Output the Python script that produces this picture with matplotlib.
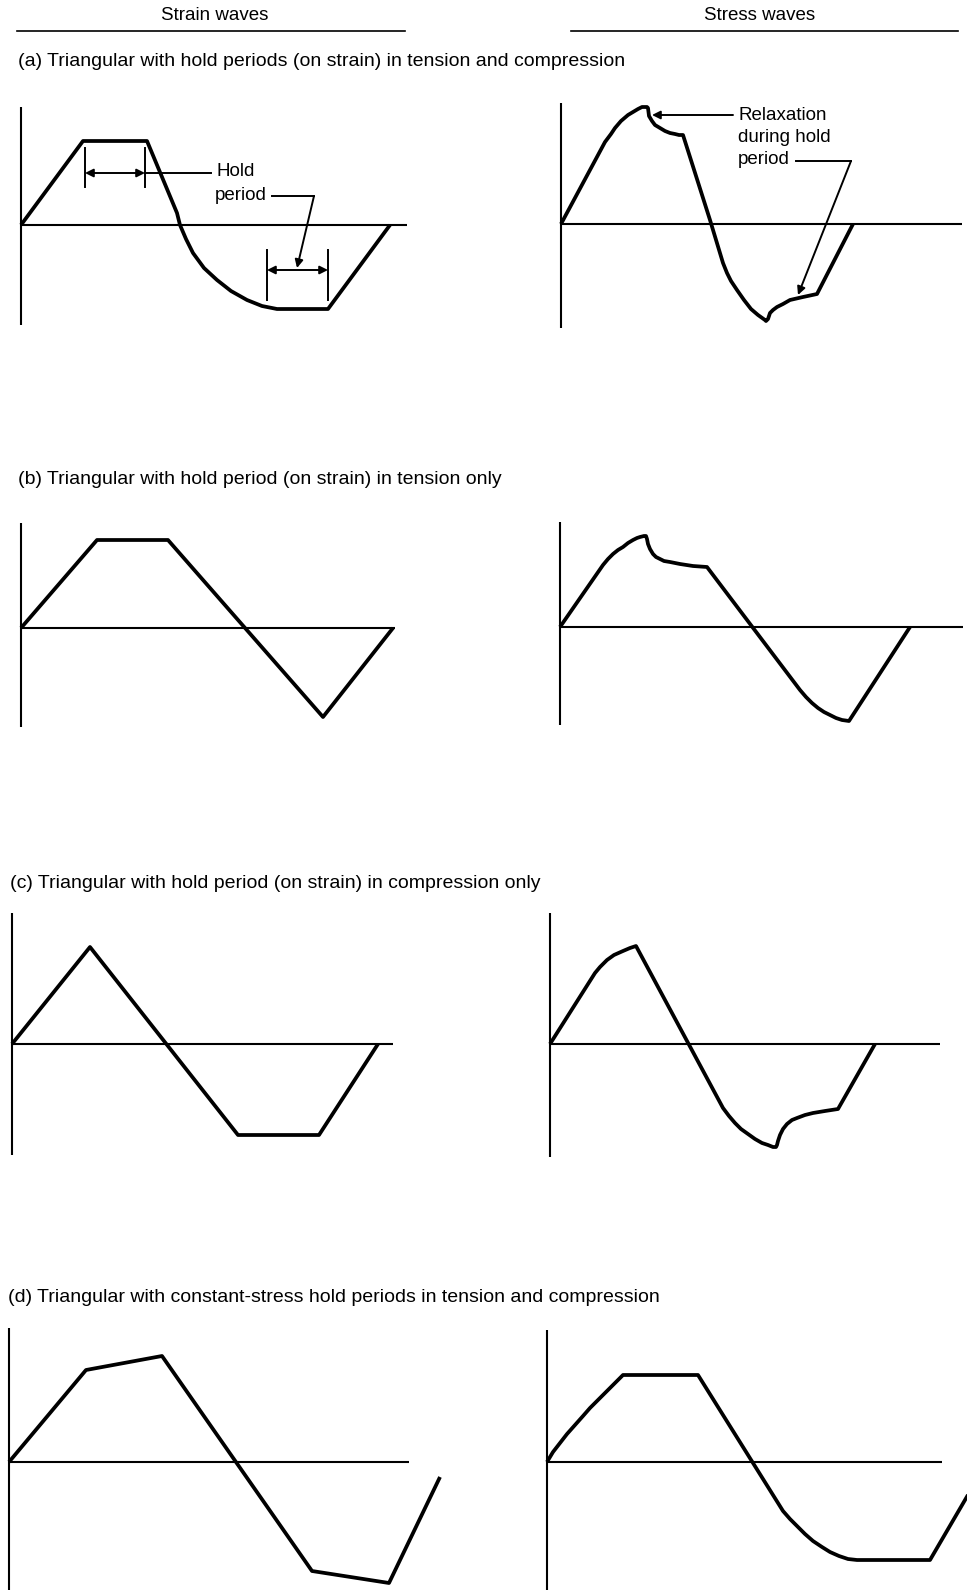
import numpy as np
import matplotlib
matplotlib.use("Agg")
import matplotlib.pyplot as plt

plt.rcParams['font.family'] = ['Liberation Sans', 'DejaVu Sans']

col_titles = ['Strain waves', 'Stress waves']
panel_titles = [
    '(a) Triangular with hold periods (on strain) in tension and compression',
    '(b) Triangular with hold period (on strain) in tension only',
    '(c) Triangular with hold period (on strain) in compression only',
    '(d) Triangular with constant-stress hold periods in tension and compression',
]

# waveforms: time and amplitude measured from the origin of each panel
strain_a_t = [0, 62, 126, 156, 159, 165, 172, 183, 196, 210, 226, 241, 256, 307, 369]
strain_a_y = [0, 84, 84, 12, 0, -14, -28, -43, -55, -66, -75, -81, -84, -84, 0]
stress_a_t = [0, 44, 50, 54, 60, 67, 72, 77, 81, 84, 86, 87, 88, 91, 94, 99, 104, 109, 114, 118, 122,
              149, 162, 166, 170, 176, 183, 190, 197, 204, 205, 207, 209, 212, 216, 222, 229, 242, 256, 292]
stress_a_y = [0, 82, 90, 96, 103, 109, 112, 115, 117, 117, 117, 116, 108, 103, 99, 96, 93, 91, 90, 89, 89,
              4, -39, -49, -57, -66, -76, -85, -91, -96, -97, -95, -89, -86, -83, -80, -76, -73, -70, 0]

strain_b_t = [0, 76, 147, 302, 372]
strain_b_y = [0, 88, 88, -89, 0]
stress_b_t = [0, 43, 48, 53, 58, 63, 68, 73, 77, 80, 84, 86, 87, 88, 90, 93, 96, 100, 104, 110, 120, 133, 147,
              240, 246, 252, 258, 264, 270, 276, 282, 289, 350]
stress_b_y = [0, 62, 68, 73, 77, 80, 84, 87, 89, 90, 91, 91, 88, 83, 78, 73, 70, 68, 66, 65, 63, 61, 60,
              -63, -70, -76, -81, -85, -88, -91, -93, -94, 0]

strain_c_t = [0, 78, 226, 307, 366]
strain_c_y = [0, 97, -91, -91, 0]
stress_c_t = [0, 45, 50, 57, 64, 73, 80, 86, 173, 179, 185, 191, 198, 205, 212, 218, 223, 226, 227, 228,
              230, 233, 237, 242, 247, 255, 263, 275, 288, 325]
stress_c_y = [0, 71, 77, 84, 89, 93, 96, 98, -64, -72, -79, -85, -90, -95, -99, -101, -103, -103, -101, -97,
              -91, -85, -80, -76, -74, -71, -69, -67, -65, 0]

strain_d_t = [0, 77, 153, 303, 380, 431]
strain_d_y = [0, 92, 106, -109, -121, -15]
stress_d_t = [0, 6, 13, 20, 28, 36, 43, 54, 65, 76, 151, 236, 243, 250, 258, 266, 275, 283, 292, 301,
              310, 383, 432]
stress_d_y = [0, 10, 19, 28, 37, 46, 54, 65, 76, 87, 87, -49, -57, -64, -72, -79, -85, -90, -94, -97,
              -98, -98, -14]

waves = [
    (strain_a_t, strain_a_y), (stress_a_t, stress_a_y),
    (strain_b_t, strain_b_y), (stress_b_t, stress_b_y),
    (strain_c_t, strain_c_y), (stress_c_t, stress_c_y),
    (strain_d_t, strain_d_y), (stress_d_t, stress_d_y),
]

# panel frames in pixels: origin x, origin y, axis top, axis bottom, axis right end
frames = [
    (21, 225, 107, 325, 407), (561, 224, 103, 328, 962),
    (21, 628, 523, 727, 395), (560, 627, 522, 725, 963),
    (12, 1044, 913, 1155, 393), (550, 1044, 913, 1157, 940),
    (9, 1462, 1328, 1590, 409), (547, 1462, 1330, 1590, 942),
]
title_pos = [(18, 62), (18, 480), (10, 883), (8, 1298)]

W, H = 967, 1590
fig = plt.figure(figsize=(W / 100, H / 100), dpi=100)
ax = fig.add_axes([0, 0, 1, 1])
ax.set_xlim(0, W)
ax.set_ylim(H, 0)
ax.axis('off')

fs = 13.5
k = 'black'

# column headings with rules underneath
ax.text(215, 15, col_titles[0], fontsize=fs, ha='center', va='center')
ax.text(760, 15, col_titles[1], fontsize=fs, ha='center', va='center')
ax.plot([17, 405], [31, 31], color=k, lw=1.2)
ax.plot([571, 958], [31, 31], color=k, lw=1.2)

for (x, y), s in zip(title_pos, panel_titles):
    ax.text(x, y, s, fontsize=14, ha='left', va='center')

for (ox, oy, top, bot, xr), (t, v) in zip(frames, waves):
    ax.plot([ox, ox], [top, bot], color=k, lw=1.5, solid_capstyle='butt')
    ax.plot([ox, xr], [oy, oy], color=k, lw=1.5, solid_capstyle='butt')
    ax.plot(ox + np.array(t), oy - np.array(v), color=k, lw=2.7,
            solid_joinstyle='round', solid_capstyle='butt')

arrow = dict(arrowstyle='-|>', color=k, lw=1.4, mutation_scale=12,
             shrinkA=0, shrinkB=0)
darrow = dict(arrowstyle='<|-|>', color=k, lw=1.4, mutation_scale=12,
              shrinkA=0, shrinkB=0)

# hold period markers on the strain wave (a)
for x in (85, 145):
    ax.plot([x, x], [148, 187], color=k, lw=1.4)
ax.annotate('', xy=(85, 173), xytext=(145, 173), arrowprops=darrow)
ax.plot([145, 211], [173, 173], color=k, lw=1.4)
ax.text(216, 172, 'Hold', fontsize=fs, ha='left', va='center')
ax.text(215, 195, 'period', fontsize=fs, ha='left', va='center')
for x in (267, 328):
    ax.plot([x, x], [250, 300], color=k, lw=1.4)
ax.annotate('', xy=(267, 270), xytext=(328, 270), arrowprops=darrow)
ax.plot([272, 314], [196, 196], color=k, lw=1.4)
ax.annotate('', xy=(297, 268), xytext=(314, 196), arrowprops=arrow)

# relaxation labels on the stress wave (a)
ax.annotate('', xy=(652, 115), xytext=(733, 115), arrowprops=arrow)
ax.text(738, 115, 'Relaxation', fontsize=fs, ha='left', va='center')
ax.text(738, 137, 'during hold', fontsize=fs, ha='left', va='center')
ax.text(738, 159, 'period', fontsize=fs, ha='left', va='center')
ax.plot([796, 851], [161, 161], color=k, lw=1.4)
ax.annotate('', xy=(798, 295), xytext=(851, 161), arrowprops=arrow)

fig.savefig('out.png', dpi=100, facecolor='white')
